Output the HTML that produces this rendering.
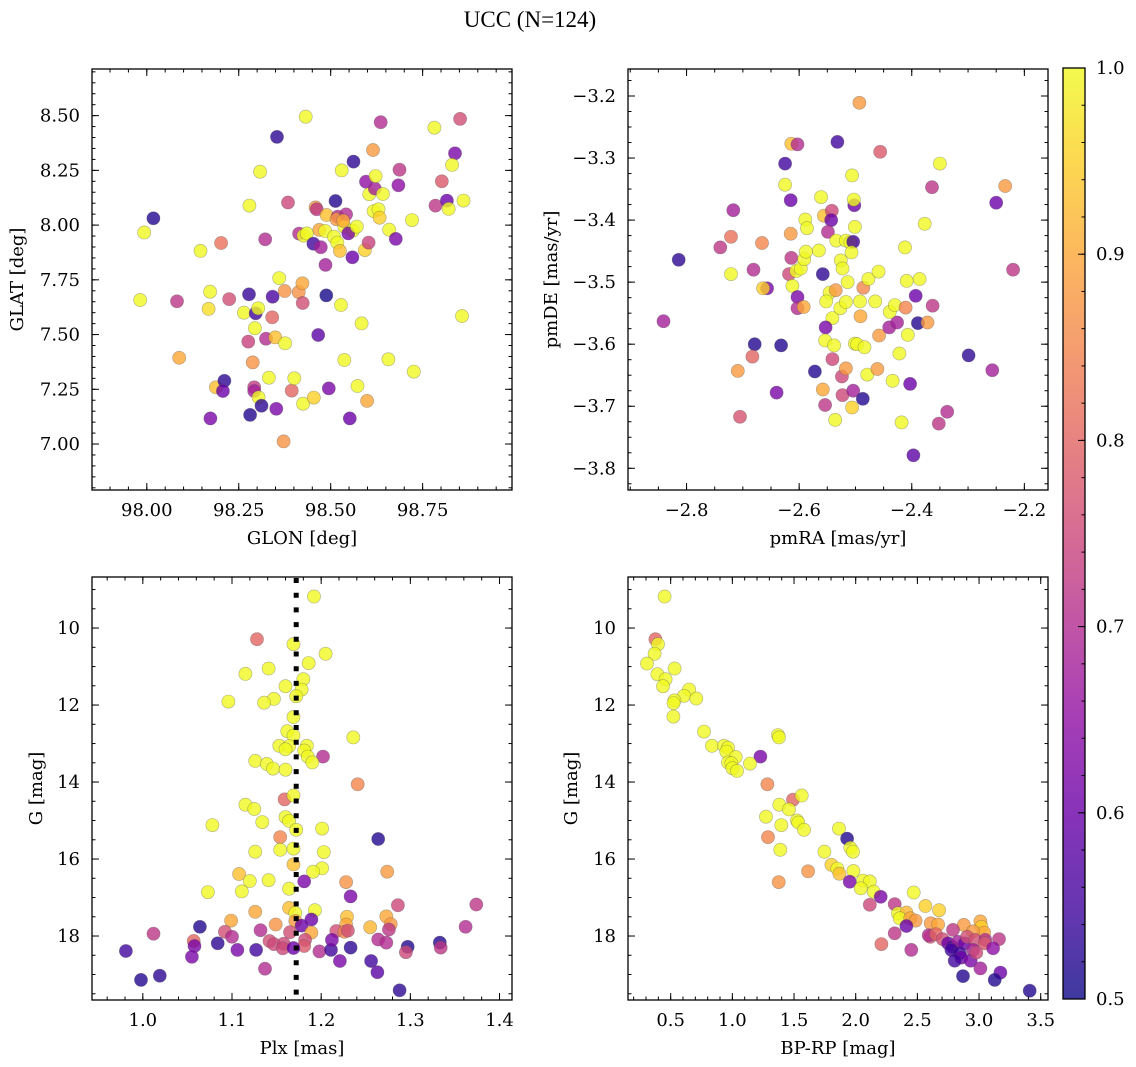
<!DOCTYPE html>
<html><head><meta charset="utf-8">
<style>
html,body{margin:0;padding:0;background:#fff;}
svg{display:block;}
text{font-family:"DejaVu Serif","Liberation Serif",serif;fill:#000;}
</style></head>
<body>
<svg id="fig" width="1136" height="1067" viewBox="0 0 1136 1067" xmlns="http://www.w3.org/2000/svg">
<text x="530" y="27" text-anchor="middle" style="font-family:'Liberation Serif',serif;font-size:23px">UCC (N=124)</text>
</svg>
<script>
// ---------- data ----------
const p1x=[98.018,97.993,97.982,98.082,98.088,98.146,98.202,98.172,98.168,98.224,98.188,98.211,98.207,98.173,98.279,98.308,98.354,98.322,98.384,98.278,98.264,98.296,98.303,98.294,98.276,98.324,98.349,98.376,98.341,98.342,98.360,98.375,98.288,98.332,98.292,98.292,98.304,98.312,98.281,98.352,98.372,98.394,98.401,98.425,98.454,98.413,98.423,98.424,98.432,98.414,98.426,98.435,98.453,98.473,98.486,98.466,98.488,98.459,98.462,98.469,98.485,98.489,98.513,98.519,98.516,98.542,98.537,98.560,98.548,98.509,98.518,98.525,98.534,98.571,98.559,98.530,98.562,98.528,98.537,98.573,98.584,98.495,98.552,98.599,98.596,98.593,98.603,98.605,98.620,98.622,98.615,98.617,98.630,98.633,98.642,98.636,98.659,98.677,98.684,98.687,98.657,98.721,98.726,98.782,98.802,98.785,98.816,98.821,98.838,98.830,98.852,98.861,98.857];
const p1y=[8.031,7.966,7.658,7.652,7.394,7.882,7.918,7.696,7.617,7.662,7.259,7.289,7.242,7.117,8.089,8.244,8.403,7.935,8.103,7.684,7.600,7.597,7.620,7.529,7.468,7.481,7.487,7.460,7.579,7.673,7.758,7.699,7.373,7.303,7.259,7.242,7.213,7.175,7.133,7.161,7.012,7.244,7.300,7.184,7.212,7.694,7.734,7.644,8.495,7.961,7.952,7.962,7.915,7.899,7.818,7.498,7.679,8.081,8.072,7.978,7.973,8.046,8.110,8.039,8.026,8.049,7.993,7.975,7.962,7.947,7.920,7.882,8.020,7.993,7.853,8.250,8.290,7.635,7.384,7.265,7.551,7.254,7.117,7.197,8.198,7.886,7.920,8.141,8.167,8.224,8.343,8.064,8.072,8.034,8.142,8.470,7.979,7.937,8.182,8.253,7.387,8.023,7.331,8.445,8.200,8.089,8.112,8.074,8.328,8.275,8.485,8.112,7.585];
const p1p=[.52,1,1,.72,.9,1,.82,1,.97,.76,.93,.53,.6,.62,1,1,.53,.7,.75,.54,1,.55,1,1,.74,.7,.93,1,.8,.56,1,.87,.87,1,.73,.68,1,.53,.52,.62,.87,.8,1,1,.95,.87,.9,.76,1,.7,1,1,.55,.68,.68,.58,.51,.88,.72,.9,1,.93,.52,.7,.88,.7,1,1,.62,1,1,.93,.9,1,.6,1,.53,1,1,1,1,.62,.6,.9,.65,.95,.74,1,.68,1,.88,1,1,.95,1,.7,1,.62,.65,.72,1,1,1,1,.78,.72,.6,1,.62,1,.76,1,1];

const p2x=[-2.814,-2.841,-2.717,-2.740,-2.721,-2.721,-2.681,-2.666,-2.657,-2.664,-2.679,-2.683,-2.709,-2.705,-2.640,-2.632,-2.625,-2.625,-2.615,-2.614,-2.603,-2.615,-2.614,-2.618,-2.605,-2.612,-2.603,-2.603,-2.592,-2.597,-2.591,-2.588,-2.589,-2.586,-2.565,-2.561,-2.556,-2.542,-2.543,-2.549,-2.558,-2.546,-2.552,-2.535,-2.541,-2.527,-2.553,-2.554,-2.538,-2.541,-2.524,-2.517,-2.558,-2.554,-2.523,-2.536,-2.572,-2.532,-2.534,-2.517,-2.509,-2.504,-2.507,-2.526,-2.523,-2.514,-2.517,-2.506,-2.502,-2.503,-2.501,-2.493,-2.456,-2.492,-2.486,-2.491,-2.501,-2.497,-2.484,-2.479,-2.461,-2.458,-2.477,-2.465,-2.459,-2.504,-2.487,-2.506,-2.440,-2.426,-2.439,-2.430,-2.434,-2.422,-2.418,-2.412,-2.411,-2.409,-2.407,-2.403,-2.397,-2.393,-2.389,-2.386,-2.377,-2.372,-2.363,-2.364,-2.350,-2.352,-2.337,-2.299,-2.257,-2.250,-2.234,-2.220];
const p2y=[-3.464,-3.563,-3.384,-3.444,-3.427,-3.487,-3.480,-3.437,-3.510,-3.510,-3.600,-3.620,-3.643,-3.717,-3.678,-3.602,-3.309,-3.343,-3.368,-3.277,-3.278,-3.422,-3.461,-3.487,-3.482,-3.506,-3.524,-3.542,-3.540,-3.478,-3.463,-3.451,-3.399,-3.413,-3.449,-3.363,-3.393,-3.385,-3.400,-3.419,-3.487,-3.517,-3.531,-3.513,-3.558,-3.542,-3.573,-3.594,-3.602,-3.624,-3.652,-3.639,-3.673,-3.698,-3.682,-3.722,-3.644,-3.274,-3.433,-3.433,-3.436,-3.435,-3.452,-3.465,-3.478,-3.500,-3.532,-3.328,-3.376,-3.367,-3.411,-3.211,-3.290,-3.531,-3.509,-3.555,-3.599,-3.600,-3.605,-3.649,-3.640,-3.586,-3.495,-3.531,-3.483,-3.675,-3.688,-3.702,-3.573,-3.565,-3.548,-3.537,-3.659,-3.615,-3.726,-3.444,-3.541,-3.498,-3.585,-3.664,-3.779,-3.522,-3.566,-3.495,-3.406,-3.565,-3.538,-3.347,-3.309,-3.728,-3.709,-3.618,-3.642,-3.372,-3.345,-3.480];
const p2p=[.53,.68,.68,.72,.82,1,.7,.85,.62,.95,.52,.8,.88,.77,.62,.52,.55,1,.6,.93,.7,.88,.72,.75,1,1,.62,.7,.9,1,1,1,1,1,1,1,.93,.75,.6,.7,.53,1,1,.88,1,1,.62,1,1,.75,.75,.88,.9,.72,.75,1,.52,.55,1,1,1,.55,1,1,1,1,1,1,.6,1,1,.88,.78,1,.85,.9,1,1,1,1,.88,.88,1,1,1,.68,.52,.95,.68,.68,1,1,1,1,1,1,.85,1,1,.6,.58,.6,.52,1,1,.88,.72,.72,1,.72,.7,.53,.68,.6,.88,.72];

const p3x=[1.192,1.128,1.169,1.205,1.186,1.141,1.115,1.180,1.160,1.178,1.172,1.147,1.096,1.136,1.169,1.162,1.169,1.236,1.153,1.164,1.160,1.184,1.181,1.185,1.202,1.126,1.190,1.139,1.146,1.160,1.241,1.159,1.169,1.115,1.125,1.160,1.164,1.134,1.078,1.172,1.201,1.154,1.264,1.154,1.169,1.126,1.203,1.169,1.201,1.191,1.274,1.108,1.120,1.141,1.181,1.228,1.164,1.111,1.073,1.233,1.286,1.374,1.164,1.193,1.126,1.171,1.229,1.273,1.189,1.099,1.171,1.149,1.228,1.255,1.278,1.362,1.064,1.178,1.276,1.012,1.092,1.132,1.165,1.189,1.217,1.226,1.230,1.100,1.057,1.058,1.084,1.142,1.147,1.158,1.157,1.182,1.181,1.264,1.273,1.333,1.334,1.297,1.295,0.981,1.055,1.106,1.127,1.169,1.198,1.211,1.233,1.212,1.221,1.256,1.137,1.263,0.998,1.019,1.288];
const p3y=[9.18,10.29,10.42,10.67,10.91,11.05,11.19,11.33,11.51,11.60,11.77,11.84,11.91,11.94,12.31,12.68,12.79,12.84,13.06,13.07,13.15,13.06,13.18,13.34,13.34,13.45,13.49,13.53,13.65,13.68,14.06,14.45,14.35,14.59,14.70,14.91,15.01,15.04,15.12,15.24,15.21,15.43,15.48,15.76,15.73,15.81,15.82,16.14,16.24,16.33,16.33,16.39,16.57,16.55,16.58,16.60,16.77,16.84,16.86,16.97,17.20,17.18,17.27,17.33,17.37,17.40,17.50,17.49,17.57,17.60,17.61,17.70,17.70,17.77,17.69,17.76,17.76,17.73,17.83,17.94,17.89,17.85,17.90,17.91,17.87,17.89,17.86,18.02,18.13,18.26,18.19,18.13,18.21,18.20,18.32,18.10,18.26,18.09,18.17,18.17,18.30,18.28,18.42,18.39,18.54,18.36,18.36,18.31,18.40,18.36,18.30,18.10,18.65,18.65,18.85,18.94,19.14,19.03,19.41];
const p3p=[1,.8,1,1,1,1,1,1,1,1,1,1,1,1,1,1,1,1,1,1,1,1,1,1,.7,1,1,1,1,1,.85,.8,1,1,1,1,1,1,1,1,1,.85,.52,1,1,1,1,.93,1,1,.88,.93,1,1,.62,.87,1,1,1,.62,.75,.72,.93,1,.9,1,.93,.9,.6,.9,.88,.87,.9,.92,.88,.7,.52,.6,.72,.72,.76,.7,.76,.9,.76,.85,.76,.7,.8,.62,.53,.76,.75,.75,.75,.75,.78,.7,.7,.52,.72,.52,.75,.55,.62,.62,.55,.6,.7,.55,.53,.62,.62,.55,.7,.58,.52,.53,.53];
const plxRef=[1.172];

const p4x=[0.451,0.376,0.397,0.370,0.308,0.532,0.392,0.459,0.438,0.649,0.608,0.708,0.530,0.524,0.522,0.770,1.370,1.378,0.835,0.932,0.965,0.951,1.027,1.227,0.965,0.992,1.143,1.000,1.038,1.284,1.492,1.562,1.381,1.459,1.273,1.524,1.535,1.397,1.581,1.865,1.289,1.930,1.957,1.389,1.978,1.746,1.803,1.851,1.868,1.981,1.614,1.376,1.951,2.059,2.114,2.041,2.146,2.203,2.470,2.114,2.316,2.565,2.676,2.343,2.411,2.357,2.443,2.486,2.411,2.608,2.668,2.876,3.011,3.019,3.041,2.951,2.789,2.605,2.592,2.651,2.705,2.316,2.208,2.451,2.749,2.784,2.830,2.884,2.903,2.970,3.051,3.046,3.162,3.114,2.776,2.843,2.951,2.857,2.932,2.803,3.011,2.870,3.173,3.127,3.411,2.978];
const p4y=[9.18,10.29,10.42,10.67,10.92,11.05,11.20,11.33,11.51,11.60,11.76,11.83,11.88,11.95,12.30,12.69,12.78,12.84,13.06,13.06,13.11,13.21,13.35,13.34,13.49,13.51,13.52,13.64,13.71,14.06,14.46,14.35,14.59,14.71,14.90,15.00,15.05,15.12,15.24,15.21,15.43,15.47,15.71,15.76,15.81,15.81,16.15,16.25,16.38,16.31,16.32,16.60,16.59,16.56,16.58,16.76,16.85,16.98,16.87,17.19,17.17,17.22,17.33,17.41,17.39,17.54,17.54,17.60,17.74,17.67,17.70,17.71,17.62,17.76,17.91,17.88,17.84,18.02,17.98,17.95,18.08,17.93,18.21,18.36,18.19,18.28,18.15,18.19,18.02,18.10,18.10,18.19,18.08,18.32,18.36,18.45,18.36,18.56,18.64,18.64,18.84,19.04,18.95,19.14,19.42,18.43];
const p4p=[1,.8,1,1,1,1,1,1,1,1,1,1,1,1,1,1,1,1,1,1,1,1,1,.62,1,1,1,1,1,.85,.8,1,1,1,1,1,1,1,1,1,.85,.52,1,1,1,1,.95,1,.93,1,.87,.87,.62,1,1,1,1,.62,1,.75,.72,.95,.95,1,.92,1,.9,.88,.6,.88,.9,.88,.9,.95,.9,.88,.72,.76,.7,.8,.76,.72,.8,.7,.6,.58,.68,.6,.76,.76,.7,.78,.72,.65,.55,.55,.68,.6,.62,.55,.68,.52,.6,.52,.52,.75];

const cbTicks=[0.5,0.6,0.7,0.8,0.9,1.0];

// ---------- helpers ----------
const NS='http://www.w3.org/2000/svg';
const svg=document.getElementById('fig');
function mk(tag,attrs,parent){const e=document.createElementNS(NS,tag);for(const k in attrs)e.setAttribute(k,attrs[k]);(parent||svg).appendChild(e);return e;}
const plasma=[[13,8,135],[65,4,157],[106,0,168],[143,13,164],[177,42,144],[204,71,120],[225,100,98],[242,132,75],[252,166,54],[252,206,37],[240,249,33]];
function cmap(p){let t=(p-0.5)/0.5;t=Math.max(0,Math.min(1,t));const f=t*10,i=Math.min(9,Math.floor(f)),r=f-i;const a=plasma[i],b=plasma[i+1];
 return 'rgb('+[0,1,2].map(k=>Math.round(a[k]+(b[k]-a[k])*r)).join(',')+')';}
function fmt(v,d){let s=Math.abs(v).toFixed(d);return (v<-1e-9?'\u2212':'')+s;}
function range(min,max,step){const out=[];const s=Math.ceil(min/step-1e-6);for(let i=s;i*step<=max+1e-9;i++)out.push(+(i*step).toFixed(6));return out;}

function panel(cfg){
  const g=mk('g',{});
  
  
  const {L,R,T,B}=cfg;
  const sx=v=>L+(v-cfg.xd[0])/(cfg.xd[1]-cfg.xd[0])*(R-L);
  const sy=cfg.inv?(v=>T+(v-cfg.yd[0])/(cfg.yd[1]-cfg.yd[0])*(B-T)):(v=>B-(v-cfg.yd[0])/(cfg.yd[1]-cfg.yd[0])*(B-T));
  const gp=mk('g',{},g);
  
  
  const n=Math.min(cfg.X.length,cfg.Y.length,cfg.P.length);
  for(let i=0;i<n;i++){
    const c=mk('circle',{cx:sx(cfg.X[i]).toFixed(1),cy:sy(cfg.Y[i]).toFixed(1),r:6.6,fill:cmap(cfg.P[i]),'fill-opacity':0.8,stroke:'#555','stroke-opacity':0.45,'stroke-width':0.6},gp);
    
    
  }
  if(cfg.vline){
    const vl=mk('line',{x1:sx(cfg.vline),x2:sx(cfg.vline),y1:T+1,y2:B,stroke:'#000','stroke-width':5,'stroke-dasharray':'5,9.7'},g);
    
    
  }
  const tg=mk('g',{stroke:'#000','stroke-width':1},g);
  
  
  const xmaj=range(cfg.xd[0],cfg.xd[1],cfg.xs),xmin=range(cfg.xd[0],cfg.xd[1],cfg.xm);
  const ylo=Math.min(...cfg.yd),yhi=Math.max(...cfg.yd);
  const ymaj=range(ylo,yhi,cfg.ys),ymin=range(ylo,yhi,cfg.ym);
  xmin.forEach(v=>{const x=sx(v);mk('line',{x1:x,x2:x,y1:B,y2:B-3.5},tg);mk('line',{x1:x,x2:x,y1:T,y2:T+3.5},tg);});
  xmaj.forEach(v=>{const x=sx(v);mk('line',{x1:x,x2:x,y1:B,y2:B-7},tg);mk('line',{x1:x,x2:x,y1:T,y2:T+7},tg);
    const t=mk('text',{x:x,y:B+26,'text-anchor':'middle','font-size':18},g);t.textContent=fmt(v,cfg.xdp);
    
    });
  ymin.forEach(v=>{const y=sy(v);mk('line',{x1:L,x2:L+3.5,y1:y,y2:y},tg);mk('line',{x1:R,x2:R-3.5,y1:y,y2:y},tg);});
  ymaj.forEach(v=>{const y=sy(v);mk('line',{x1:L,x2:L+7,y1:y,y2:y},tg);mk('line',{x1:R,x2:R-7,y1:y,y2:y},tg);
    const t=mk('text',{x:L-12,y:y+6,'text-anchor':'end','font-size':18},g);t.textContent=fmt(v,cfg.ydp);
    
    });
  const fr=mk('rect',{x:L,y:T,width:R-L,height:B-T,fill:'none',stroke:'#000','stroke-width':1.3},g);
  
  
  const xl=mk('text',{x:(L+R)/2,y:B+54,'text-anchor':'middle','font-size':18},g);xl.textContent=cfg.xlab;
  
  
  const yx=cfg.ylx,yy=(T+B)/2;
  const yl=mk('text',{x:yx,y:yy,'text-anchor':'middle','font-size':18,transform:'rotate(-90 '+yx+' '+yy+')'},g);yl.textContent=cfg.ylab;
  
  
}

panel({name:'glon-glat-panel',L:92,R:512,T:69,B:490,xd:[97.851,98.993],yd:[6.79,8.713],xs:0.25,xm:0.05,ys:0.25,ym:0.05,xdp:2,ydp:2,X:p1x,Y:p1y,P:p1p,xlab:'GLON [deg]',ylab:'GLAT [deg]',ylx:23});
panel({name:'pm-panel',L:628,R:1048,T:69,B:490,xd:[-2.904,-2.158],yd:[-3.835,-3.1565],xs:0.2,xm:0.05,ys:0.1,ym:0.025,xdp:1,ydp:1,X:p2x,Y:p2y,P:p2p,xlab:'pmRA [mas/yr]',ylab:'pmDE [mas/yr]',ylx:557});
panel({name:'plx-g-panel',L:92,R:512,T:577,B:1000,xd:[0.943,1.414],yd:[8.674,19.662],inv:true,xs:0.1,xm:0.02,ys:2,ym:0.5,xdp:1,ydp:0,X:p3x,Y:p3y,P:p3p,vline:plxRef[0],xlab:'Plx [mas]',ylab:'G [mag]',ylx:42});
panel({name:'cmd-panel',L:628,R:1048,T:577,B:1000,xd:[0.154,3.559],yd:[8.674,19.662],inv:true,xs:0.5,xm:0.1,ys:2,ym:0.5,xdp:1,ydp:0,X:p4x,Y:p4y,P:p4p,xlab:'BP-RP [mag]',ylab:'G [mag]',ylx:577});

// colorbar
(function(){
  const L=1063,R=1085,T=68,B=999;
  const cg=mk('g',{});
  
  
  const defs=mk('defs',{},cg);
  const lg=mk('linearGradient',{id:'cbg',x1:0,y1:1,x2:0,y2:0},defs);
  for(let i=0;i<=20;i++){const p=0.5+i*0.025;mk('stop',{offset:(i/20),'stop-color':cmap(p),'stop-opacity':0.8},lg);}
  const r=mk('rect',{x:L,y:T,width:R-L,height:B-T,fill:'url(#cbg)'},cg);
  
  
  const sy=v=>B-(v-0.5)/0.5*(B-T);
  range(0.5,1.0,0.02).forEach(v=>{mk('line',{x1:R,x2:R-3.5,y1:sy(v),y2:sy(v),stroke:'#000','stroke-width':1},cg);});
  cbTicks.forEach(v=>{const y=sy(v);mk('line',{x1:R,x2:R-7,y1:y,y2:y,stroke:'#000','stroke-width':1},cg);
    const t=mk('text',{x:R+11,y:y+6,'font-size':18},cg);t.textContent=v.toFixed(1);
    
    });
  mk('rect',{x:L,y:T,width:R-L,height:B-T,fill:'none',stroke:'#000','stroke-width':1.3},cg);
})();
</script>
</body></html>
